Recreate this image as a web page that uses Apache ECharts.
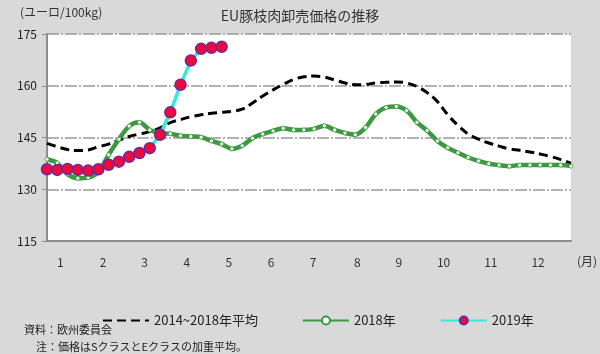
<!DOCTYPE html>
<html>
<head>
<meta charset="utf-8">
<script src="https://cdn.jsdelivr.net/npm/echarts@6/dist/echarts.min.js"></script>
<style>
html,body{margin:0;padding:0;background:#d9d9d9;}
#main{width:600px;height:354px;}
</style>
</head>
<body>
<div id="main"></div>
<script>
// 週次データ（1〜52週）
var avg5y = [143.3,142.3,141.5,141.2,141.4,142.3,143.1,144.2,145.3,146.0,146.7,147.8,149.3,150.2,151.0,151.6,152.0,152.3,152.6,153.2,155.0,157.0,158.8,160.4,161.8,162.6,162.8,162.5,161.7,160.8,160.3,160.4,160.8,161.0,161.1,160.8,159.8,158.0,155.4,151.6,148.5,146.0,144.5,143.4,142.5,141.7,141.3,140.8,140.2,139.5,138.6,137.5];
var y2018 = [138.7,137.6,134.4,133.2,133.4,135.0,140.0,144.5,148.3,149.4,147.2,146.3,146.1,145.5,145.3,145.1,144.0,143.1,141.7,142.6,144.8,146.0,146.9,147.7,147.2,147.2,147.5,148.4,147.2,146.3,145.8,147.9,151.8,153.7,154.0,152.8,149.4,147.0,144.0,142.0,140.6,139.2,138.2,137.4,137.0,136.7,137.0,137.0,137.0,137.0,137.0,136.7];
var y2019 = [135.8,135.6,135.9,135.6,135.4,135.8,137.1,138.0,139.4,140.5,141.9,145.8,152.3,160.3,167.3,170.7,171.0,171.3];
var seriesNames = ['2014~2018年平均','2018年','2019年'];
var monthLabels = ['1','2','3','4','5','6','7','8','9','10','11','12'];
// 月ラベルを置く週の位置
var monthPos = [2.3,6.45,10.5,14.6,18.7,22.8,26.9,31.2,35.25,39.6,44.2,48.8];
var yTicks = [115,130,145,160,175];

function toPairs(arr){
    var out = [];
    for(var i=0;i<arr.length;i++){ out.push([i+1, arr[i]]); }
    return out;
}

var myChart = echarts.init(document.getElementById('main'));
var font = '"Noto Sans CJK JP", sans-serif';
var option = {
    backgroundColor: '#d9d9d9',
    textStyle: {fontFamily: font},
    animation: false,
    grid: {
        left: 47, right: 29, top: 34, bottom: 113,
        show: true, backgroundColor: '#fff', borderWidth: 0
    },
    legend: {
        data: [
            {name: seriesNames[0], itemStyle: {opacity: 0}},
            seriesNames[1],
            seriesNames[2]
        ],
        left: 97, top: 309,
        itemWidth: 46, itemHeight: 10, itemGap: 44,
        textStyle: {fontSize: 13, color: '#222', fontFamily: font}
    },
    xAxis: {
        type: 'value',
        min: 1, max: 52,
        axisLine: {show: true, lineStyle: {color: '#8c8c8c', width: 2}},
        axisTick: {show: false},
        splitLine: {show: false},
        axisLabel: {
            customValues: monthPos,
            margin: 15,
            fontSize: 12,
            color: '#333',
            formatter: function(v){
                var idx = monthPos.indexOf(v);
                return idx >= 0 ? monthLabels[idx] : '';
            }
        }
    },
    yAxis: {
        type: 'value',
        min: yTicks[0], max: yTicks[yTicks.length-1], interval: 15,
        axisLine: {show: true, lineStyle: {color: '#8c8c8c', width: 2}},
        axisTick: {show: true, length: 5, lineStyle: {color: '#8c8c8c'}},
        axisLabel: {fontSize: 12, color: '#222', margin: 10},
        splitLine: {show: true, lineStyle: {color: '#999', width: 1.5, type: [12,2,2,2]}}
    },
    series: [
        {
            name: seriesNames[0],
            type: 'line',
            smooth: 0.4,
            symbol: 'none',
            data: toPairs(avg5y),
            lineStyle: {color: '#000', width: 3, type: [9,5]},
            itemStyle: {color: '#000'}
        },
        {
            name: seriesNames[1],
            type: 'line',
            smooth: 0.3,
            symbol: 'circle',
            symbolSize: 4,
            data: toPairs(y2018),
            lineStyle: {color: '#3b9a3f', width: 4.5},
            itemStyle: {color: '#fff', borderColor: '#3b9a3f', borderWidth: 0.8}
        },
        {
            name: seriesNames[2],
            type: 'line',
            symbol: 'circle',
            symbolSize: 11,
            data: toPairs(y2019),
            lineStyle: {color: '#36e8da', width: 3.5},
            itemStyle: {color: '#ee0a3c', borderColor: '#6b2a9a', borderWidth: 1.5},
            z: 5
        }
    ],
    graphic: [
        {type: 'text', left: 'center', top: 9, style: {text: 'EU豚枝肉卸売価格の推移', fill: '#333', font: '14px ' + font}},
        {type: 'text', left: 20, top: 6, style: {text: '(ユーロ/100kg)', fill: '#333', font: '12px ' + font}},
        {type: 'text', left: 577, top: 255, style: {text: '(月)', fill: '#333', font: '12px ' + font}},
        {type: 'text', left: 24, top: 324, style: {text: '資料：欧州委員会', fill: '#222', font: '11px ' + font}},
        {type: 'text', left: 36, top: 341, style: {text: '注：価格はSクラスとEクラスの加重平均。', fill: '#222', font: '11px ' + font}}
    ]
};
myChart.setOption(option);
</script>
</body>
</html>
